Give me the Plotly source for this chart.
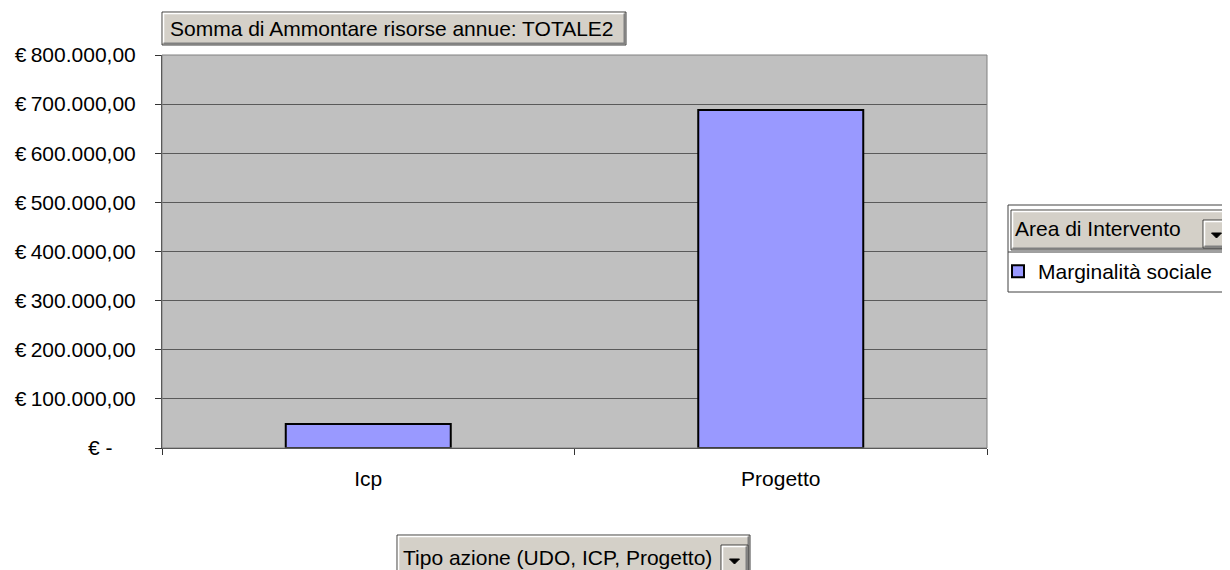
import plotly.graph_objects as go

# ---- data ----
categories = ["Icp", "Progetto"]
values = [49000, 688000]
series_name = "Marginalità sociale"
y_tick_values = [0, 100000, 200000, 300000, 400000, 500000, 600000, 700000, 800000]

def euro(v):
    if v == 0:
        return "€ -" + "\u00a0" * 4
    s = f"{v:,.2f}".replace(",", "X").replace(".", ",").replace("X", ".")
    return "€\u2009" + s

y_tick_text = [euro(v) for v in y_tick_values]

OFF = 8  # page body margin
W, H = 1230 - OFF, 570 - OFF
L, R, T, B = 162, 987, 55, 448  # plot area in page px

def px(x):
    return (x - L) / (R - L)

def py(y):
    return (B - y) / (B - T)

FONT = "Arial, Liberation Sans, sans-serif"
FS = 21
FACE = "#D4D0C8"

fig = go.Figure()
fig.add_trace(go.Bar(
    x=categories, y=values, name=series_name,
    marker=dict(color="#9999FF", line=dict(color="#000000", width=2)),
    showlegend=True,
))

shapes = []
annotations = []

def button(x0, y0, x1, y1, fill=FACE):
    shapes.append(dict(type="rect", xref="paper", yref="paper",
                       x0=px(x0), x1=px(x1), y0=py(y0), y1=py(y1),
                       fillcolor=fill, line=dict(color="#404040", width=1), layer="above"))
    shapes.append(dict(type="path", xref="paper", yref="paper",
                       path=f"M {px(x0+1.5)},{py(y1-2)} L {px(x0+1.5)},{py(y0+1.5)} L {px(x1-2)},{py(y0+1.5)}",
                       line=dict(color="#FFFFFF", width=1.5), layer="above"))
    shapes.append(dict(type="path", xref="paper", yref="paper",
                       path=f"M {px(x0+1.5)},{py(y1-1.5)} L {px(x1-1.5)},{py(y1-1.5)} L {px(x1-1.5)},{py(y0+1.5)}",
                       line=dict(color="#808080", width=2), layer="above"))

def dropdown(x0, y0, x1, y1):
    button(x0, y0, x1, y1)
    cx = (x0 + x1) / 2
    cy = (y0 + y1) / 2 + 1
    shapes.append(dict(type="path", xref="paper", yref="paper",
                       path=f"M {px(cx-5)},{py(cy-2)} L {px(cx+5)},{py(cy-2)} L {px(cx)},{py(cy+3)} Z",
                       fillcolor="#000000", line=dict(color="#000000", width=1), layer="above"))

# plot border
shapes.append(dict(type="rect", xref="paper", yref="paper", x0=0, x1=1, y0=0, y1=1,
                   line=dict(color="#808080", width=1), layer="above"))

# title button
button(162, 12, 626, 45)
annotations.append(dict(text="Somma di Ammontare risorse annue: TOTALE2", xref="paper", yref="paper",
                        x=px(168), y=py(29), xanchor="left", yanchor="middle", showarrow=False,
                        font=dict(family=FONT, size=FS, color="#000000")))

# legend frame
shapes.append(dict(type="rect", xref="paper", yref="paper",
                   x0=px(1008), x1=px(1240), y0=py(205), y1=py(292),
                   fillcolor="#FFFFFF", line=dict(color="#404040", width=1), layer="below"))
button(1011, 210, 1240, 250)
annotations.append(dict(text="Area di Intervento", xref="paper", yref="paper",
                        x=px(1013), y=py(228), xanchor="left", yanchor="middle", showarrow=False,
                        font=dict(family=FONT, size=FS, color="#000000")))
dropdown(1203, 220, 1230, 248)
shapes.append(dict(type="line", xref="paper", yref="paper",
                   x0=px(1008), x1=px(1240), y0=py(252), y1=py(252),
                   line=dict(color="#404040", width=1), layer="above"))

# bottom button
button(397, 535, 750, 585)
annotations.append(dict(text="Tipo azione (UDO, ICP, Progetto)", xref="paper", yref="paper",
                        x=px(401), y=py(557), xanchor="left", yanchor="middle", showarrow=False,
                        font=dict(family=FONT, size=FS, color="#000000")))
dropdown(721, 545, 748, 575)

fig.update_layout(
    width=W, height=H,
    margin=dict(l=L - OFF, r=W - (R - OFF), t=T - OFF, b=H - (B - OFF), pad=0, autoexpand=False),
    paper_bgcolor="#FFFFFF",
    plot_bgcolor="#C0C0C0",
    bargap=0.6,
    font=dict(family=FONT, size=FS, color="#000000"),
    showlegend=True,
    legend=dict(x=px(998), y=py(251), xanchor="left", yanchor="top",
                bgcolor="rgba(0,0,0,0)", borderwidth=0,
                font=dict(family=FONT, size=FS, color="#000000"),
                itemsizing="constant"),
    shapes=shapes,
    annotations=annotations,
    xaxis=dict(
        type="category", categoryorder="array", categoryarray=categories,
        showgrid=False, showline=True, linecolor="#333333", linewidth=1,
        ticks="outside", ticklen=6, tickcolor="#333333", tickson="boundaries",
        ticklabelstandoff=12, tickfont=dict(family=FONT, size=FS),
        range=[-0.5, 1.5], fixedrange=True, automargin=False,
    ),
    yaxis=dict(
        range=[0, 800000], tickmode="array", tickvals=y_tick_values, ticktext=y_tick_text,
        showgrid=True, gridcolor="#5A5A5A", gridwidth=1,
        showline=True, linecolor="#333333", linewidth=1,
        ticks="outside", ticklen=6, tickcolor="#333333",
        ticklabelstandoff=15, tickfont=dict(family=FONT, size=FS),
        zeroline=False, fixedrange=True, automargin=False,
    ),
)

fig.write_html("out.html")
